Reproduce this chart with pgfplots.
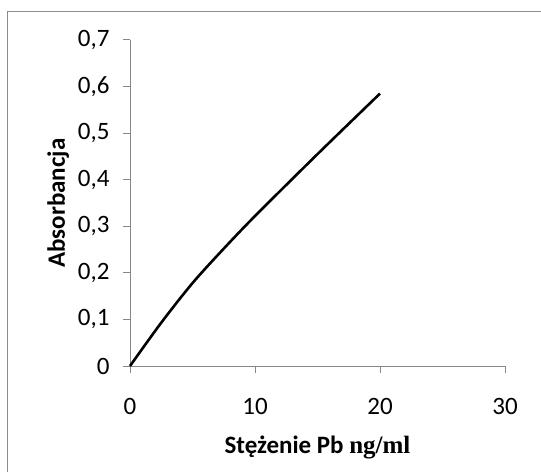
\documentclass[border=0pt]{standalone}
\usepackage{pgfplots}
\pgfplotsset{compat=1.18}
\usepackage{fontspec}
\setmainfont{Carlito}
\newfontfamily\tnr{Liberation Serif}
\definecolor{axisgray}{HTML}{868686}
\definecolor{framegray}{HTML}{8C8C8C}

\begin{document}
\begin{tikzpicture}[x=1pt,y=1pt]
    \useasboundingbox (0,0) rectangle (541,472);
    % chart frame (right and bottom edges fall outside the picture)
    \draw[framegray, line width=1.5pt] (7.5,0) -- (7.5,460.5) -- (541,460.5);
    \begin{axis}[
        at={(130pt,106pt)},
        anchor=south west,
        scale only axis,
        width=375pt,
        height=326pt,
        xmin=0, xmax=30,
        ymin=0, ymax=0.7,
        axis lines*=left,
        axis line style={axisgray, line width=1pt},
        xtick={0,10,20,30},
        ytick={0,0.1,0.2,0.3,0.4,0.5,0.6,0.7},
        tick align=outside,
        major tick length=7pt,
        tick style={axisgray, line width=1pt},
        xticklabel style={font=\fontsize{25}{28}\selectfont, yshift=-22pt},
        yticklabel style={font=\fontsize{25}{28}\selectfont, xshift=-10pt},
        /pgf/number format/assume math mode=true,
        /pgf/number format/use comma,
        /pgf/number format/fixed,
        /pgf/number format/precision=1,
        xlabel={Stężenie Pb {\tnr ng/ml}},
        ylabel={Absorbancja},
        xlabel style={font=\fontsize{25}{29}\selectfont\bfseries, yshift=-14pt},
        ylabel style={font=\fontsize{25}{29}\selectfont\bfseries, yshift=2pt},
        clip=false,
    ]
        \addplot[black, line width=2.6pt, smooth] coordinates {
            (0,0) (2.5,0.093) (5,0.178) (7.5,0.252) (10,0.322) (15,0.455) (20,0.585)
        };
    \end{axis}
\end{tikzpicture}
\end{document}
